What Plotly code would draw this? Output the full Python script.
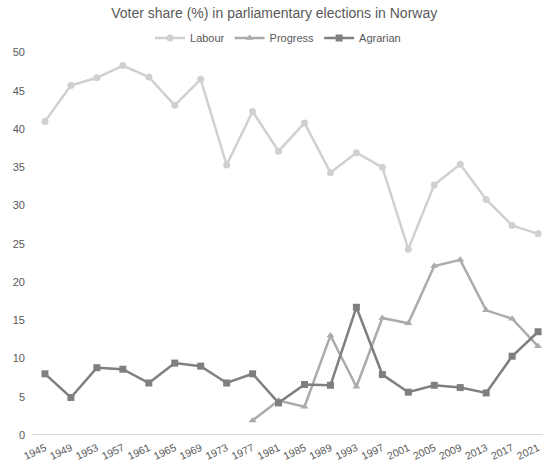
import plotly.graph_objects as go

years = ["1945","1949","1953","1957","1961","1965","1969","1973","1977","1981",
         "1985","1989","1993","1997","2001","2005","2009","2013","2017","2021"]
labour = [41.0,45.7,46.7,48.3,46.8,43.1,46.5,35.3,42.3,37.1,
          40.8,34.3,36.9,35.0,24.3,32.7,35.4,30.8,27.4,26.3]
progress = [None,None,None,None,None,None,None,None,1.9,4.5,
            3.7,13.0,6.3,15.3,14.6,22.1,22.9,16.3,15.2,11.6]
agrarian = [8.0,4.9,8.8,8.6,6.8,9.4,9.0,6.8,8.0,4.2,
            6.6,6.5,16.7,7.9,5.6,6.5,6.2,5.5,10.3,13.5]

fig = go.Figure()
fig.add_trace(go.Scatter(x=years, y=labour, name="Labour", mode="lines+markers",
                         line=dict(color="#d0d0d0", width=2.5),
                         marker=dict(symbol="circle", size=7, color="#d0d0d0")))
fig.add_trace(go.Scatter(x=years, y=progress, name="Progress", mode="lines+markers",
                         line=dict(color="#ababab", width=2.5),
                         marker=dict(symbol="triangle-up", size=7, color="#ababab")))
fig.add_trace(go.Scatter(x=years, y=agrarian, name="Agrarian", mode="lines+markers",
                         line=dict(color="#7f7f7f", width=2.5),
                         marker=dict(symbol="square", size=7, color="#7f7f7f")))

fig.update_layout(
    width=543, height=464,
    margin=dict(l=32, r=0, t=35, b=29),
    paper_bgcolor="white", plot_bgcolor="white",
    font=dict(family="Liberation Sans, Arial, sans-serif", size=11, color="#595959"),
    title=dict(text="Voter share (%) in parliamentary elections in Norway",
               x=0.505, xref="container", xanchor="center",
               y=0.972, yref="container", yanchor="middle",
               font=dict(size=14, color="#595959")),
    legend=dict(orientation="h", x=0.512, xref="container", xanchor="center",
                y=0.918, yref="container", yanchor="middle",
                font=dict(size=11, color="#595959"),
                bgcolor="rgba(0,0,0,0)", itemwidth=30),
    showlegend=True,
)
fig.update_xaxes(type="category", range=[-0.5, 19.19], showgrid=False,
                 showline=False, zeroline=False, ticks="", tickangle=-25,
                 automargin=False, ticklabelstandoff=4,
                 tickfont=dict(size=10.5, color="#595959"))
fig.update_yaxes(range=[0, 50], dtick=5, showgrid=False, zeroline=True,
                 zerolinecolor="#d9d9d9", zerolinewidth=1, showline=False,
                 ticks="", automargin=False, ticklabelstandoff=6,
                 tickfont=dict(size=11, color="#595959"))

fig.write_html("out.html")
